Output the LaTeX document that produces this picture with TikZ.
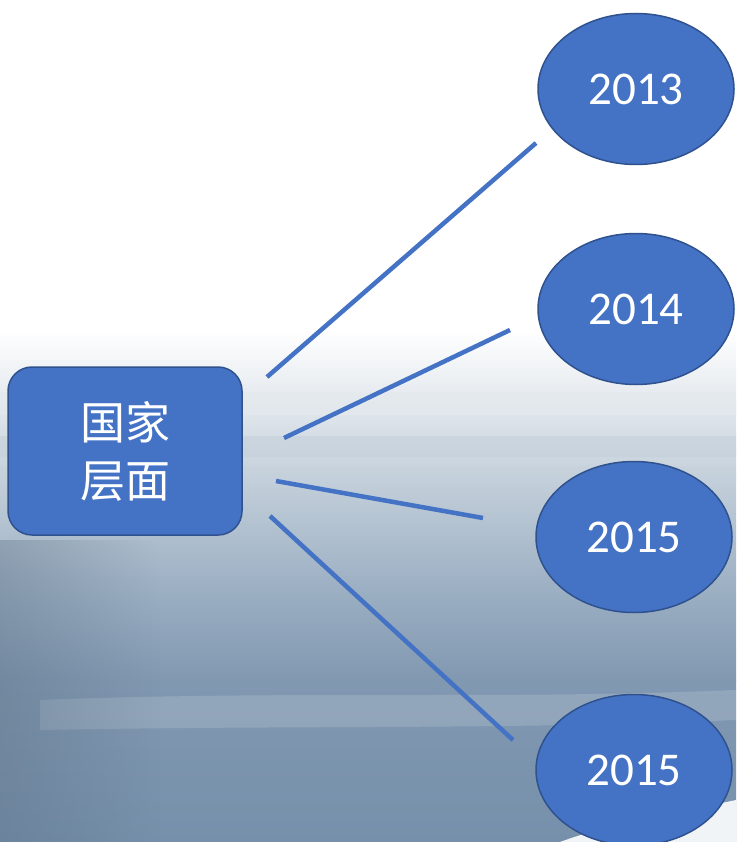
\documentclass[tikz,border=0pt]{standalone}
\usepackage{fontspec}
\setmainfont{Carlito}
\newfontfamily\cjk{Noto Sans CJK SC}
\usetikzlibrary{shapes.geometric,fadings}
\definecolor{accent}{HTML}{4472C4}
\definecolor{edge}{HTML}{2F528F}
\definecolor{bgA}{HTML}{E4E9EE}
\definecolor{bgB}{HTML}{C3CFDA}
\definecolor{bgC}{HTML}{9FB2C5}
\definecolor{bgD}{HTML}{8198B1}
\definecolor{bgE}{HTML}{7690AB}
\tikzset{
  yearnode/.style={ellipse, fill=accent, draw=edge, line width=1.5pt,
    minimum width=196pt, minimum height=151pt, inner sep=0pt,
    text=white, font=\fontsize{47}{47}\selectfont},
  mainnode/.style={rectangle, rounded corners=24pt, fill=accent, draw=edge, line width=1.5pt,
    minimum width=234pt, minimum height=168pt, inner sep=0pt, align=center,
    text=white, font=\cjk\fontsize{45}{58}\selectfont},
  link/.style={draw=accent, line width=4.5pt}
}
\begin{document}
\begin{tikzpicture}[x=1pt,y=-1pt]
\useasboundingbox (0,0) rectangle (736,842);
% background
\fill[white] (0,0) rectangle (736,842);
\shade[top color=white, bottom color=bgA] (0,330) rectangle (736,400);
\shade[top color=bgA, bottom color=bgB] (0,400) rectangle (736,480);
\shade[top color=bgB, bottom color=bgC] (0,480) rectangle (736,580);
\shade[top color=bgC, bottom color=bgD] (0,580) rectangle (736,680);
\shade[top color=bgD, bottom color=bgE] (0,680) rectangle (736,842);
\shade[top color=bgA, middle color=white, bottom color=bgA, opacity=0.6] (0,392) rectangle (736,414);
\shade[top color=bgB, middle color=white, bottom color=bgB, opacity=0.5] (0,436) rectangle (736,456);
\shade[top color=bgB, middle color=white, bottom color=bgB, opacity=0.3] (0,466) rectangle (736,480);
\fill[white, opacity=0.15] (40,700) .. controls (300,690) and (500,700) .. (736,690) -- (736,720) .. controls (500,730) and (300,725) .. (40,730) -- cycle;
\fill[bgE!75!black, opacity=0.35, path fading=east] (0,540) rectangle (160,842);
\fill[white, opacity=0.9] (560,842) .. controls (620,820) and (690,810) .. (736,800) -- (736,842) -- cycle;
% nodes
\node[mainnode] (main) at (125,451) {国家\\层面};
\node[yearnode] (y1) at (636,89) {2013};
\node[yearnode] (y2) at (636,309) {2014};
\node[yearnode] (y3) at (634,537) {2015};
\node[yearnode] (y4) at (634,770) {2015};
% connector ends
\coordinate (a1) at (267,377); \coordinate (b1) at (536,143);
\coordinate (a2) at (284,438); \coordinate (b2) at (510,330);
\coordinate (a3) at (276,481); \coordinate (b3) at (483,518);
\coordinate (a4) at (270,516); \coordinate (b4) at (513,740);
\draw[link] (a1) -- (b1);
\draw[link] (a2) -- (b2);
\draw[link] (a3) -- (b3);
\draw[link] (a4) -- (b4);
\end{tikzpicture}
\end{document}
